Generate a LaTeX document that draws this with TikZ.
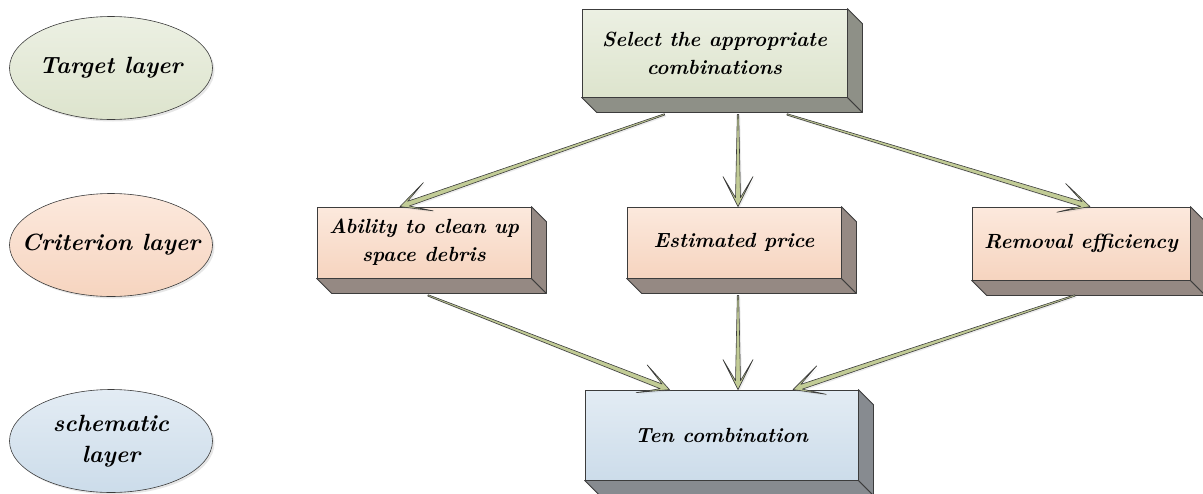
\documentclass[tikz,border=0pt]{standalone}
\usepackage{tikz}
\usetikzlibrary{calc,shadows,shapes.geometric}

\definecolor{tgtTop}{HTML}{ECF0E3}
\definecolor{tgtBot}{HTML}{DDE4CD}
\definecolor{crtTop}{HTML}{FCE9DD}
\definecolor{crtBot}{HTML}{F6D4BF}
\definecolor{schTop}{HTML}{E3ECF4}
\definecolor{schBot}{HTML}{CCDCEA}
\definecolor{selSide}{HTML}{8E9087}
\definecolor{crtSide}{HTML}{958983}
\definecolor{tenSide}{HTML}{878B90}
\definecolor{arrowGreen}{HTML}{C2CC96}
\definecolor{edge}{HTML}{3C3C3C}

% depth faces of a box node
\newcommand{\extrude}[2]{%
  \filldraw[side face, fill=#2] (#1.south west) -- (#1.south east) -- ++(15,15) -- ($(#1.south west)+(15,15)$) -- cycle;
  \filldraw[side face, fill=#2] (#1.north east) -- ++(15,15) -- ($(#1.south east)+(15,15)$) -- (#1.south east) -- cycle;
}

% tapered arrow from #1 to #2
\newcommand{\taper}[2]{%
  \coordinate (hn) at ($(#2)!9pt!(#1)$);
  \coordinate (hb) at ($(#2)!30pt!(#1)$);
  \filldraw[arrow body] ($(#1)!0.7pt!90:(#2)$) -- ($(hn)!2.5pt!90:(#2)$) -- ($(hb)!15pt!90:(#2)$) -- (#2)
    -- ($(hb)!15pt!-90:(#2)$) -- ($(hn)!2.5pt!-90:(#2)$) -- ($(#1)!0.7pt!-90:(#2)$) -- cycle;
}

\begin{document}
\begin{tikzpicture}[x=1pt,y=-1pt,
  txt/.style={font=\fontsize{20.5}{28}\selectfont\bfseries\itshape, align=center},
  layer/.style={txt, font=\fontsize{23.5}{31}\selectfont\bfseries\itshape, ellipse, draw=edge, line width=0.6pt,
    minimum width=203pt, minimum height=103pt, inner xsep=-30pt, inner ysep=-10pt,
    drop shadow={opacity=0.2, shadow xshift=2pt, shadow yshift=-2pt}},
  box/.style={txt, rectangle, draw=edge, line width=0.8pt, inner sep=0pt},
  side face/.style={draw=edge, line width=0.8pt, line join=round},
  arrow body/.style={fill=arrowGreen, draw=edge, line width=0.6pt, line join=round,
    drop shadow={opacity=0.15, shadow xshift=1.5pt, shadow yshift=-1.5pt}}]
\useasboundingbox (0,0) rectangle (1203,493);

% layers on the left
\node[layer, top color=tgtTop, bottom color=tgtBot](target) at (111,68) {Target layer};
\node[layer, top color=crtTop, bottom color=crtBot](criterion) at (111,245) {Criterion layer};
\node[layer, top color=schTop, bottom color=schBot](schematic) at (111,441) {schematic\\layer};

% boxes
\node[box, top color=tgtTop, bottom color=tgtBot, minimum width=265pt, minimum height=88pt](select) at (714.5,53) {Select the appropriate\\combinations};
\extrude{select}{selSide}

\node[box, top color=crtTop, bottom color=crtBot, minimum width=214pt, minimum height=71pt](ability) at (424,242.5) {Ability to clean up\\space debris};
\extrude{ability}{crtSide}
\node[box, top color=crtTop, bottom color=crtBot, minimum width=214pt, minimum height=71pt](price) at (734,242.5) {Estimated price};
\extrude{price}{crtSide}
\node[box, top color=crtTop, bottom color=crtBot, minimum width=218pt, minimum height=73pt](efficiency) at (1081,243.5) {Removal efficiency};
\extrude{efficiency}{crtSide}

\node[box, top color=schTop, bottom color=schBot, minimum width=273pt, minimum height=90pt](ten) at (721.5,435) {Ten combination};
\extrude{ten}{tenSide}

% arrows
\coordinate (s1) at ($(select.south)+(-50,17)$);
\coordinate (s2) at ($(select.south)+(23.5,17)$);
\coordinate (s3) at ($(select.south)+(72.5,17)$);
\taper{s1}{$(ability.north)+(-24,0)$}
\taper{s2}{$(price.north)+(4,0)$}
\taper{s3}{$(efficiency.north)+(9,0)$}

\coordinate (b1) at ($(ability.south)+(4,17)$);
\coordinate (b2) at ($(price.south)+(4,17)$);
\coordinate (b3) at ($(efficiency.south)+(-6,15)$);
\taper{b1}{$(ten.north)+(-52,0)$}
\taper{b2}{$(ten.north)+(16.5,0)$}
\taper{b3}{$(ten.north)+(71.5,0)$}
\end{tikzpicture}
\end{document}
